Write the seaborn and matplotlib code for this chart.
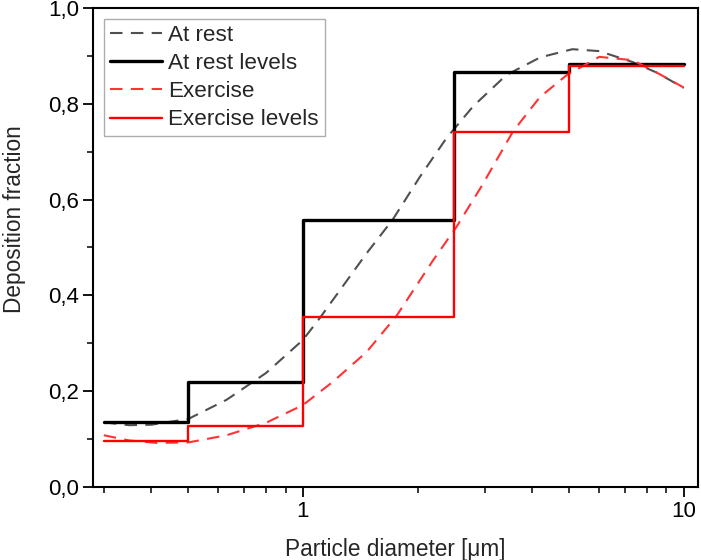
import numpy as np
import pandas as pd
import matplotlib
matplotlib.use("Agg")
import matplotlib.pyplot as plt
import seaborn as sns
from matplotlib.ticker import FixedLocator, FuncFormatter, NullFormatter

# curves
rest_x = [0.3, 0.35, 0.4, 0.5, 0.63, 0.8, 1.0, 1.108, 1.47, 1.72, 2.03, 2.38, 2.8, 3.42, 4.2, 5.1, 6.0, 7.35, 8.5, 10.0]
rest_y = [0.135, 0.129, 0.13, 0.142, 0.182, 0.238, 0.307, 0.353, 0.488, 0.558, 0.648, 0.728, 0.795, 0.86, 0.897, 0.914, 0.91, 0.887, 0.865, 0.833]
exer_x = [0.3, 0.35, 0.414, 0.5, 0.63, 0.8, 1.0, 1.2, 1.47, 1.76, 2.2, 2.53, 2.94, 3.56, 4.19, 4.93, 6.0, 7.35, 8.5, 10.0]
exer_y = [0.108, 0.097, 0.092, 0.093, 0.108, 0.134, 0.171, 0.22, 0.282, 0.357, 0.474, 0.543, 0.627, 0.742, 0.814, 0.86, 0.898, 0.891, 0.865, 0.834]

# step levels (bin edges and values)
edges = [0.3, 0.5, 1.0, 2.5, 5.0, 10.0]
rest_levels = [0.135, 0.22, 0.558, 0.866, 0.884]
exer_levels = [0.095, 0.128, 0.355, 0.742, 0.878]

sns.set_style("ticks")
plt.rcParams['font.family'] = ['Liberation Sans', 'DejaVu Sans']

fig = plt.figure(figsize=(7.01, 5.60), dpi=100)
ax = fig.add_axes([0.1327, 0.1304, 0.863, 0.8553])

dash = (6, 4)
sns.lineplot(x=rest_x, y=rest_y, ax=ax, color="#505050", lw=1.5,
             linestyle=(0, dash), label="At rest", sort=False)
sns.lineplot(x=edges, y=rest_levels + [rest_levels[-1]], ax=ax, color="black", lw=2.4,
             drawstyle="steps-post", label="At rest levels", sort=False)
sns.lineplot(x=exer_x, y=exer_y, ax=ax, color="#ff3333", lw=1.5,
             linestyle=(0, dash), label="Exercise", sort=False)
sns.lineplot(x=edges, y=exer_levels + [exer_levels[-1]], ax=ax, color="#ff0000", lw=1.7,
             drawstyle="steps-post", label="Exercise levels", sort=False)

ax.set_xscale("log")
ax.set_xlim(0.281, 10.9)
ax.set_ylim(0, 1.0)

ax.xaxis.set_major_locator(FixedLocator([1, 10]))
ax.xaxis.set_minor_locator(FixedLocator([0.3, 0.4, 0.5, 0.6, 0.7, 0.8, 0.9, 2, 3, 4, 5, 6, 7, 8, 9]))
ax.xaxis.set_major_formatter(FuncFormatter(lambda v, p: f"{v:g}"))
ax.xaxis.set_minor_formatter(NullFormatter())
ax.yaxis.set_major_locator(FixedLocator([0, 0.2, 0.4, 0.6, 0.8, 1.0]))
ax.yaxis.set_minor_locator(FixedLocator([0.1, 0.3, 0.5, 0.7, 0.9]))
ax.yaxis.set_major_formatter(FuncFormatter(lambda v, p: f"{v:.1f}".replace(".", ",")))

ax.tick_params(which="major", direction="out", length=7, width=1.3, labelsize=16,
               colors="black", pad=3)
ax.tick_params(which="minor", direction="out", length=4, width=1.3)
ax.tick_params(top=False, right=False, which="both")
for s in ax.spines.values():
    s.set_linewidth(1.5)
    s.set_color("black")

ax.set_xlabel("Particle diameter [μm]", fontsize=16.3)
ax.set_ylabel("Deposition fraction", fontsize=16.3)
ax.xaxis.set_label_coords(0.5, -0.106)
ax.yaxis.set_label_coords(-0.11, 0.56)

leg = ax.legend(loc="upper left", fontsize=16.2, frameon=True, fancybox=False,
                handlelength=2.3, handletextpad=0.3, borderpad=0.25, labelspacing=0.32,
                borderaxespad=0.5)
leg.get_frame().set_edgecolor("#999999")
leg.get_frame().set_linewidth(1.0)

fig.savefig("out.png", dpi=100)
